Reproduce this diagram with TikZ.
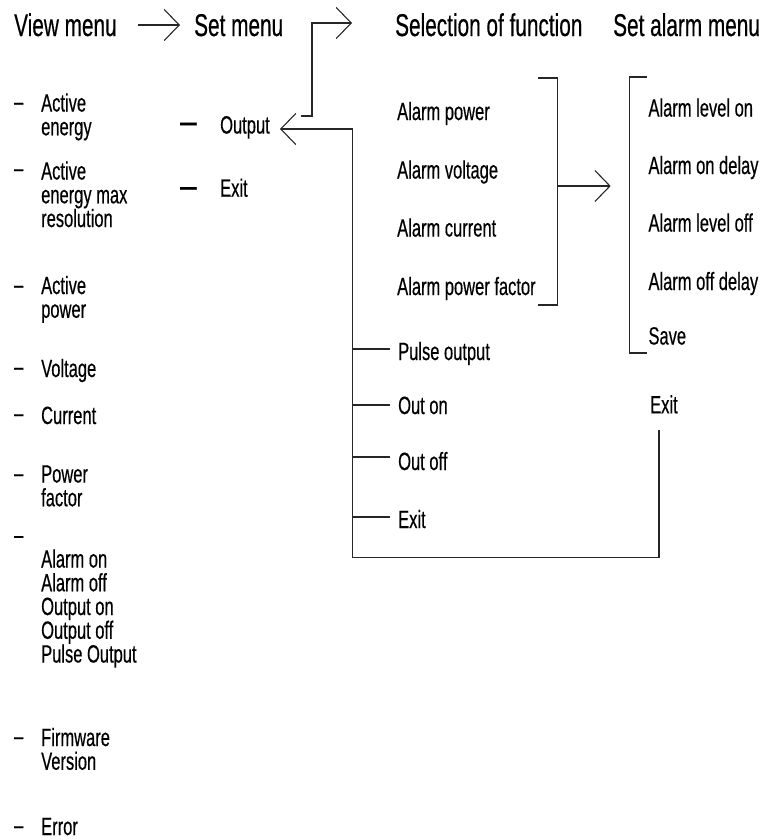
\documentclass[tikz,border=0pt]{standalone}
\usepackage{fontspec}
\setmainfont{Liberation Sans}[FakeStretch=0.66,FakeBold=0.4]
\usetikzlibrary{arrows.meta}
\begin{document}
\begin{tikzpicture}[x=1pt,y=-1pt,
  lbl/.style={anchor=base west, inner sep=0pt, font=\fontsize{25}{23.75}\selectfont, align=left},
  ttl/.style={anchor=base west, inner sep=0pt, font=\fontsize{31.5}{36}\selectfont},
  dsh/.style={anchor=base west, inner sep=0pt, font=\fontsize{25}{25}\selectfont},
  bdsh/.style={anchor=base west, inner sep=0pt, font=\fontsize{25}{25}\selectfont\bfseries},
  ln/.style={line width=1.1pt, black!85, line join=miter},
  chev/.style={ln, -{Straight Barb[length=15pt,width=31pt,line width=1.1pt]}}]
\useasboundingbox (0,0) rectangle (767,839);
% titles
\node[ttl] (vm) at (14,36) {View menu};
\node[ttl] (sm) at (194,36) {Set menu};
\node[ttl] (sof) at (395,36) {Selection of function};
\node[ttl] (sam) at (613,36) {Set alarm menu};
% left column (node base = baseline of last line)
\node[lbl] (l1) at (41,135.25) {Active\\energy};
\node[lbl] (l2) at (41,227) {Active\\energy max\\resolution};
\node[lbl] (l3) at (41,317.75) {Active\\power};
\node[lbl] (l4) at (41,377) {Voltage};
\node[lbl] (l5) at (41,424) {Current};
\node[lbl] (l6) at (41,506.25) {Power\\factor};
\node[lbl] (l7) at (41,662.5) {Alarm on\\Alarm off\\Output on\\Output off\\Pulse Output};
\node[lbl] (l8) at (41,769.75) {Firmware\\Version};
\node[lbl] (l9) at (41,835) {Error};
\node[dsh] (d1) at (14,110) {–};
\node[dsh] (d2) at (14,176.5) {–};
\node[dsh] (d3) at (14,293) {–};
\node[dsh] (d4) at (14,375) {–};
\node[dsh] (d5) at (14,421.5) {–};
\node[dsh] (d6) at (14,481.5) {–};
\node[dsh] (d7) at (14,543.3) {–};
\node[dsh] (d8) at (14,744.5) {–};
\node[dsh] (d9) at (14,833.5) {–};
% set menu
\node[bdsh] (od) at (180,130.7) {—};
\node[lbl] (out) at (220,133.5) {Output};
\node[bdsh] (ed) at (180,195) {—};
\node[lbl] (sexit) at (220,196.7) {Exit};
% selection of function
\node[lbl] (ap) at (397,120) {Alarm power};
\node[lbl] (av) at (397,178.5) {Alarm voltage};
\node[lbl] (ac) at (397,236.5) {Alarm current};
\node[lbl] (apf) at (397,295) {Alarm power factor};
\node[lbl] (po) at (398,360) {Pulse output};
\node[lbl] (oon) at (398,414) {Out on};
\node[lbl] (ooff) at (398,470) {Out off};
\node[lbl] (fexit) at (398,528) {Exit};
% set alarm menu
\node[lbl] (alo) at (648.3,116.5) {Alarm level on};
\node[lbl] (aond) at (648.3,174) {Alarm on delay};
\node[lbl] (aloff) at (648.3,231.5) {Alarm level off};
\node[lbl] (aoffd) at (648.3,290) {Alarm off delay};
\node[lbl] (save) at (648.3,344.5) {Save};
\node[lbl] (aexit) at (650,413.3) {Exit};
% coordinates
\coordinate (c1a) at (138,25);
\coordinate (c1b) at (180,25);
\coordinate (c2a) at (301,116);
\coordinate (c2c) at (312,23);
\coordinate (c2d) at (352,23);
\coordinate (r1) at (659,430);
\coordinate (r2) at (352.7,557.5);
\coordinate (r3) at (352.7,129);
\coordinate (r4) at (280,129);
\coordinate (t1) at (390,349);
\coordinate (t2) at (390,405);
\coordinate (t3) at (390,457);
\coordinate (t4) at (390,517);
\coordinate (bl1) at (538,78);
\coordinate (bl2) at (557.7,78);
\coordinate (bl3) at (557.7,305);
\coordinate (bl4) at (538,305);
\coordinate (bm) at (557.7,186);
\coordinate (ba) at (610.7,186);
\coordinate (br1) at (646.7,77);
\coordinate (br2) at (629.3,77);
\coordinate (br3) at (629.3,353);
\coordinate (br4) at (646.7,353);
% connectors
\draw[chev] (c1a) -- (c1b);
\draw[chev] (c2a) -| (c2c) -- (c2d);
\draw[chev] (r1) |- (r2) -- (r3) -- (r4);
\foreach \t in {t1,t2,t3,t4} \draw[ln] (\t -| r3) -- (\t);
\draw[ln] (bl1) -- (bl2) -- (bl3) -- (bl4);
\draw[chev] (bm) -- (ba);
\draw[ln] (br1) -- (br2) -- (br3) -- (br4);
\end{tikzpicture}
\end{document}
